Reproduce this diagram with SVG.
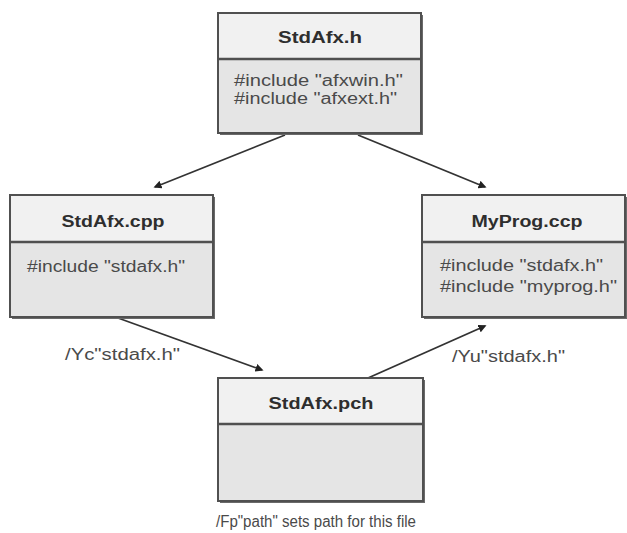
<svg xmlns="http://www.w3.org/2000/svg" width="627" height="533" viewBox="0 0 627 533">
<style>
.shadow{fill:#6a6a6a}
.hdr{fill:#f1f1f1;stroke:none}
.body{fill:#e5e5e5;stroke:none}
.frame{fill:none;stroke:#505050;stroke-width:2}
.div{stroke:#505050;stroke-width:2.5}
.title{font-family:"Liberation Sans",Arial,sans-serif;font-weight:bold;font-size:16px;fill:#2e2e2e;text-anchor:middle}
.code{font-family:"Liberation Sans",Arial,sans-serif;font-size:16px;fill:#4a4a4a}
.lbl{font-family:"Liberation Sans",Arial,sans-serif;font-size:16px;fill:#4a4a4a}
.conn{stroke:#333;stroke-width:1.8;fill:none;marker-end:url(#ah)}
</style>
<defs>
<marker id="ah" viewBox="0 0 10 10" refX="8" refY="5" markerWidth="4.5" markerHeight="4.5" orient="auto" markerUnits="strokeWidth">
<path d="M0,0 L10,5 L0,10 z" fill="#222"/>
</marker>
</defs>
<rect width="627" height="533" fill="#ffffff"/>

<g id="connectors">
<line class="conn" x1="285" y1="135" x2="155" y2="187"/>
<line class="conn" x1="358" y1="135" x2="485" y2="187"/>
<line class="conn" x1="118" y1="318" x2="262" y2="370"/>
<line class="conn" x1="368" y1="378" x2="485" y2="326"/>
</g>

<g id="stdafx_h">
<rect class="shadow" x="220" y="15" width="203" height="120"/>
<rect class="hdr" x="218" y="13" width="203" height="46"/>
<rect class="body" x="218" y="59" width="203" height="74"/>
<rect class="frame" x="218" y="13" width="203" height="120"/>
<line class="div" x1="218" y1="59" x2="421" y2="59"/>
<text class="title" x="320" y="43" textLength="84" lengthAdjust="spacingAndGlyphs">StdAfx.h</text>
<text class="code" x="234" y="86" textLength="169" lengthAdjust="spacingAndGlyphs">#include "afxwin.h"</text>
<text class="code" x="234" y="104" textLength="163" lengthAdjust="spacingAndGlyphs">#include "afxext.h"</text>
</g>

<g id="stdafx_cpp">
<rect class="shadow" x="12" y="197" width="203" height="122"/>
<rect class="hdr" x="10" y="195" width="203" height="47"/>
<rect class="body" x="10" y="242" width="203" height="75"/>
<rect class="frame" x="10" y="195" width="203" height="122"/>
<line class="div" x1="10" y1="242" x2="213" y2="242"/>
<text class="title" x="113" y="227" textLength="103" lengthAdjust="spacingAndGlyphs">StdAfx.cpp</text>
<text class="code" x="27" y="272" textLength="158" lengthAdjust="spacingAndGlyphs">#include "stdafx.h"</text>
</g>

<g id="myprog_ccp">
<rect class="shadow" x="424" y="197" width="203" height="122"/>
<rect class="hdr" x="422" y="195" width="203" height="47"/>
<rect class="body" x="422" y="242" width="203" height="75"/>
<rect class="frame" x="422" y="195" width="203" height="122"/>
<line class="div" x1="422" y1="242" x2="625" y2="242"/>
<text class="title" x="527" y="227" textLength="111" lengthAdjust="spacingAndGlyphs">MyProg.ccp</text>
<text class="code" x="440" y="271" textLength="163" lengthAdjust="spacingAndGlyphs">#include "stdafx.h"</text>
<text class="code" x="440" y="292" textLength="177" lengthAdjust="spacingAndGlyphs">#include "myprog.h"</text>
</g>

<g id="stdafx_pch">
<rect class="shadow" x="220" y="380" width="205" height="123"/>
<rect class="hdr" x="218" y="378" width="205" height="46"/>
<rect class="body" x="218" y="424" width="205" height="77"/>
<rect class="frame" x="218" y="378" width="205" height="123"/>
<line class="div" x1="218" y1="424" x2="423" y2="424"/>
<text class="title" x="321" y="409" textLength="105" lengthAdjust="spacingAndGlyphs">StdAfx.pch</text>
</g>

<g id="labels">
<text class="lbl" x="65" y="360" textLength="115" lengthAdjust="spacingAndGlyphs">/Yc"stdafx.h"</text>
<text class="lbl" x="452" y="362" textLength="113" lengthAdjust="spacingAndGlyphs">/Yu"stdafx.h"</text>
<text class="lbl" x="216" y="527" textLength="200" lengthAdjust="spacingAndGlyphs">/Fp"path" sets path for this file</text>
</g>
</svg>
